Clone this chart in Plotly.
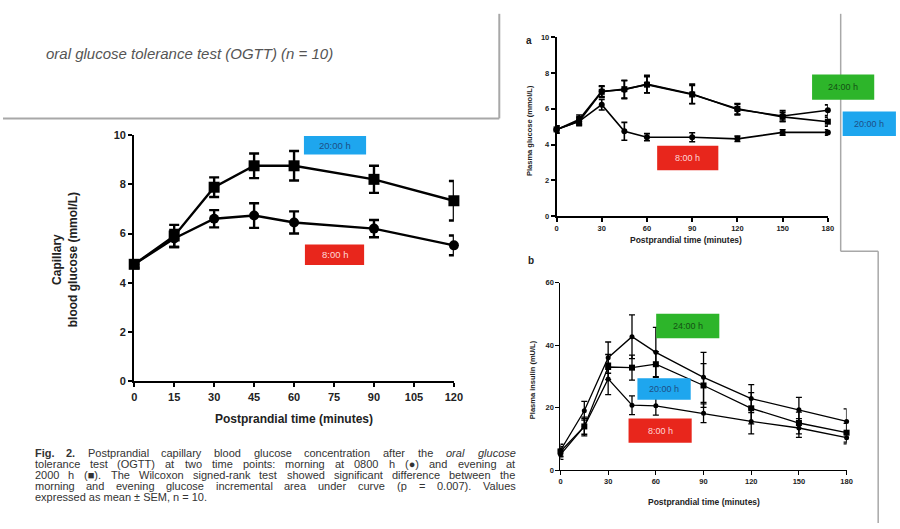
import re
import plotly.graph_objects as go

# ---- Fig. 2: capillary blood glucose after OGTT (minutes, mmol/L) ----
ogtt_time = [0, 15, 30, 45, 60, 90, 120]
glu_0800 = [4.75, 5.80, 6.60, 6.73, 6.45, 6.20, 5.52]
glu_0800_sem = [0.15, 0.35, 0.35, 0.50, 0.45, 0.35, 0.40]
glu_2000 = [4.75, 5.90, 7.88, 8.75, 8.75, 8.20, 7.33]
glu_2000_sem = [0.15, 0.45, 0.40, 0.50, 0.60, 0.55, 0.80]
ogtt_ticks = [0, 15, 30, 45, 60, 75, 90, 105, 120]

# ---- panel a: plasma glucose after a meal (mmol/L) ----
meal_time = [0, 15, 30, 45, 60, 90, 120, 150, 180]
pg_2400 = [4.83, 5.40, 6.98, 7.07, 7.38, 6.83, 5.96, 5.60, 5.92]
pg_2400_sem = [0.20, 0.25, 0.30, 0.50, 0.50, 0.55, 0.30, 0.30, 0.30]
pg_2000 = [4.85, 5.30, 6.95, 7.10, 7.35, 6.80, 6.00, 5.55, 5.28]
pg_2000_sem = [0.20, 0.25, 0.30, 0.50, 0.45, 0.50, 0.30, 0.25, 0.25]
pg_0800 = [4.85, 5.30, 6.23, 4.74, 4.41, 4.41, 4.32, 4.68, 4.68]
pg_0800_sem = [0.20, 0.20, 0.30, 0.50, 0.20, 0.25, 0.15, 0.15, 0.15]

# ---- panel b: plasma insulin after a meal (mU/L) ----
pi_2400 = [6.3, 19.0, 36.0, 42.7, 37.7, 29.7, 22.9, 19.3, 15.6]
pi_2400_sem = [2.0, 3.0, 5.0, 7.0, 8.0, 8.0, 4.5, 4.0, 4.0]
pi_2000 = [6.0, 14.0, 33.0, 32.8, 33.9, 27.1, 19.8, 15.1, 12.0]
pi_2000_sem = [1.5, 3.0, 4.0, 4.0, 4.0, 7.0, 5.0, 3.5, 3.0]
pi_0800 = [5.0, 14.0, 29.2, 20.8, 20.6, 18.2, 15.6, 13.5, 10.4]
pi_0800_sem = [1.5, 2.5, 5.0, 3.0, 3.0, 3.0, 4.0, 3.0, 2.0]

meal_ticks = [0, 30, 60, 90, 120, 150, 180]

caption = [
    "<b>Fig.</b> <b>2.</b> Postprandial capillary blood glucose concentration after the <i>oral</i> <i>glucose</i>",
    "tolerance test (OGTT) at two time points: morning at 0800 h (\u25cf) and evening at",
    "2000 h (\u25a0). The Wilcoxon signed-rank test showed significant difference between the",
    "morning and evening glucose incremental area under curve (p = 0.007). Values",
    "expressed as mean \u00b1 SEM, n = 10.",
]

W, H = 900, 529
FONT = "Liberation Sans, Arial, sans-serif"


def fx(p):
    return p / W


def fy(p):
    return 1 - p / H


fig = go.Figure()


def series(x, y, err, symbol, size, lw, cap, xa, ya):
    fig.add_trace(go.Scatter(
        x=x, y=y, mode="lines+markers", xaxis=xa, yaxis=ya,
        line=dict(color="black", width=lw),
        marker=dict(symbol=symbol, size=size, color="black"),
        error_y=dict(type="data", array=err, visible=True, color="black",
                     thickness=lw, width=cap),
        cliponaxis=False, showlegend=False,
    ))


# main OGTT chart
series(ogtt_time, glu_0800, glu_0800_sem, "circle", 10, 2.4, 5, "x", "y")
series(ogtt_time, glu_2000, glu_2000_sem, "square", 11, 2.4, 5, "x", "y")

# panel a
series(meal_time, pg_2400, pg_2400_sem, "circle", 6, 1.6, 3, "x2", "y2")
series(meal_time, pg_2000, pg_2000_sem, "square", 6, 1.6, 3, "x2", "y2")
series(meal_time, pg_0800, pg_0800_sem, "circle", 6, 1.6, 3, "x2", "y2")

# panel b
series(meal_time, pi_2400, pi_2400_sem, "circle", 5, 1.3, 3, "x3", "y3")
series(meal_time, pi_2000, pi_2000_sem, "square", 6, 1.3, 3, "x3", "y3")
series(meal_time, pi_0800, pi_0800_sem, "circle", 5, 1.3, 3, "x3", "y3")


def axis(domain, rng, ticks, size, lw, anchor):
    return dict(
        domain=domain, range=rng, tickvals=ticks, anchor=anchor,
        showline=True, linecolor="black", linewidth=lw,
        ticks="outside", ticklen=4, tickwidth=lw, tickcolor="black",
        showgrid=False, zeroline=False, fixedrange=True,
        tickfont=dict(family=FONT, size=size, color="#222", weight="bold"),
    )


fig.update_layout(
    width=W, height=H, margin=dict(l=0, r=0, t=0, b=0),
    paper_bgcolor="white", plot_bgcolor="white",
    xaxis=axis([fx(133), fx(457)], [0, 120], ogtt_ticks, 11, 2.2, "y"),
    yaxis=axis([fy(384), fy(132)], [0, 10], [0, 2, 4, 6, 8, 10], 11, 2.2, "x"),
    xaxis2=axis([fx(561), fx(836)], [0, 180], meal_ticks, 7.5, 1.5, "y2"),
    yaxis2=axis([fy(215), fy(32)], [0, 10], [0, 2, 4, 6, 8, 10], 7.5, 1.5, "x2"),
    xaxis3=axis([fx(565), fx(855)], [0, 180], meal_ticks, 7.5, 1.3, "y3"),
    yaxis3=axis([fy(475), fy(283)], [0, 60], [0, 20, 40, 60], 7.5, 1.3, "x3"),
)

shapes = []
annotations = []


def text(x, y, s, size, color="#222", bold=False, italic=False, angle=0,
         xanchor="center", family=FONT):
    annotations.append(dict(
        x=fx(x), y=fy(y), xref="paper", yref="paper", text=s, showarrow=False,
        textangle=angle, xanchor=xanchor, yanchor="middle", borderpad=0,
        font=dict(family=family, size=size, color=color,
                  weight="bold" if bold else "normal",
                  style="italic" if italic else "normal"),
    ))


def tag(x0, y0, x1, y1, fill, label, color, size=9):
    shapes.append(dict(type="rect", xref="paper", yref="paper",
                       x0=fx(x0), x1=fx(x1), y0=fy(y1), y1=fy(y0),
                       fillcolor=fill, line=dict(width=0), layer="above"))
    text((x0 + x1) / 2, (y0 + y1) / 2, label, size, color=color)


def rule(x0, y0, x1, y1, color="#a8a8a8", width=2):
    shapes.append(dict(type="line", xref="paper", yref="paper",
                       x0=fx(x0), y0=fy(y0), x1=fx(x1), y1=fy(y1),
                       line=dict(color=color, width=width)))


# approximate Arial advance widths (per 1000 em) for justifying the caption
NARROW = {"i": 222, "j": 222, "l": 222, "f": 278, "t": 278, "r": 333,
          "I": 278, ".": 278, ",": 278, ":": 278, "(": 333, ")": 333,
          "-": 333, "c": 500, "k": 500, "s": 500, "v": 500, "x": 500,
          "y": 500, "z": 500, "m": 833, "w": 722, "M": 833, "W": 944,
          "C": 722, "D": 722, "G": 778, "O": 778, "H": 722, "N": 722,
          "R": 722, "U": 722, "T": 611, "F": 611, "\u25cf": 604,
          "\u25a0": 604, "=": 584, "\u00b1": 584}


def word_width(word, size):
    plain = re.sub(r"<[^>]+>", "", word)
    return sum(NARROW.get(ch, 556) for ch in plain) * size / 1000


def justified(lines, x0, x1, y0, step, size, color):
    for i, line in enumerate(lines):
        words = line.split(" ")
        y = y0 + i * step
        if i == len(lines) - 1:
            text(x0, y, line, size, color=color, xanchor="left")
            continue
        widths = [word_width(w, size) for w in words]
        gap = (x1 - x0 - sum(widths)) / (len(words) - 1)
        x = x0
        for w, wd in zip(words, widths):
            text(x, y, w, size, color=color, xanchor="left")
            x += wd + gap


# page frame rules
rule(0, 115, 503, 115)
rule(503, 8, 503, 115)
rule(849, 8, 849, 251, width=1.5)
rule(849, 251, 887, 251, width=1.5)
rule(887, 251, 887, 529, width=1.5)

# heading fragment
text(43, 49, "oral glucose tolerance test (OGTT) (n = 10)", 15,
     color="#555", italic=True, xanchor="left")

# main chart titles
text(295, 423, "Postprandial time (minutes)", 12, bold=True)
text(63, 260, "Capillary<br>blood glucose (mmol/L)", 12, bold=True, angle=-90)

# time-point tags on the main chart
tag(305, 133, 368, 152, "#1ea6ee", "20:00 h", "#1d4f86", 9.5)
tag(306, 244, 366, 265, "#e8261c", "8:00 h", "#ffd6d6", 9.5)

# caption
justified(caption, 31, 518, 457, 11.3, 11, "#333")

# panel a titles and tags
text(533, 35, "a", 10, bold=True)
text(533, 127, "Plasma glucose (mmol/L)", 7.5, bold=True, angle=-90)
text(692, 239, "Postprandial time (minutes)", 8.5, bold=True)
tag(820, 70, 883, 96, "#2db52a", "24:00 h", "#145214")
tag(851, 108, 905, 133, "#1ea6ee", "20:00 h", "#1d4f86")
tag(663, 143, 725, 168, "#e8261c", "8:00 h", "#ffd6d6")

# panel b titles and tags
text(535, 260, "b", 10, bold=True)
text(536, 382, "Plasma insulin (mU/L)", 7.5, bold=True, angle=-90)
text(710, 508, "Postprandial time (minutes)", 8.5, bold=True)
tag(662, 315, 726, 340, "#2db52a", "24:00 h", "#145214")
tag(643, 381, 697, 403, "#1ea6ee", "20:00 h", "#1d4f86")
tag(634, 422, 698, 447, "#e8261c", "8:00 h", "#ffd6d6")

fig.update_layout(shapes=shapes, annotations=annotations)

fig.write_html("out.html")
